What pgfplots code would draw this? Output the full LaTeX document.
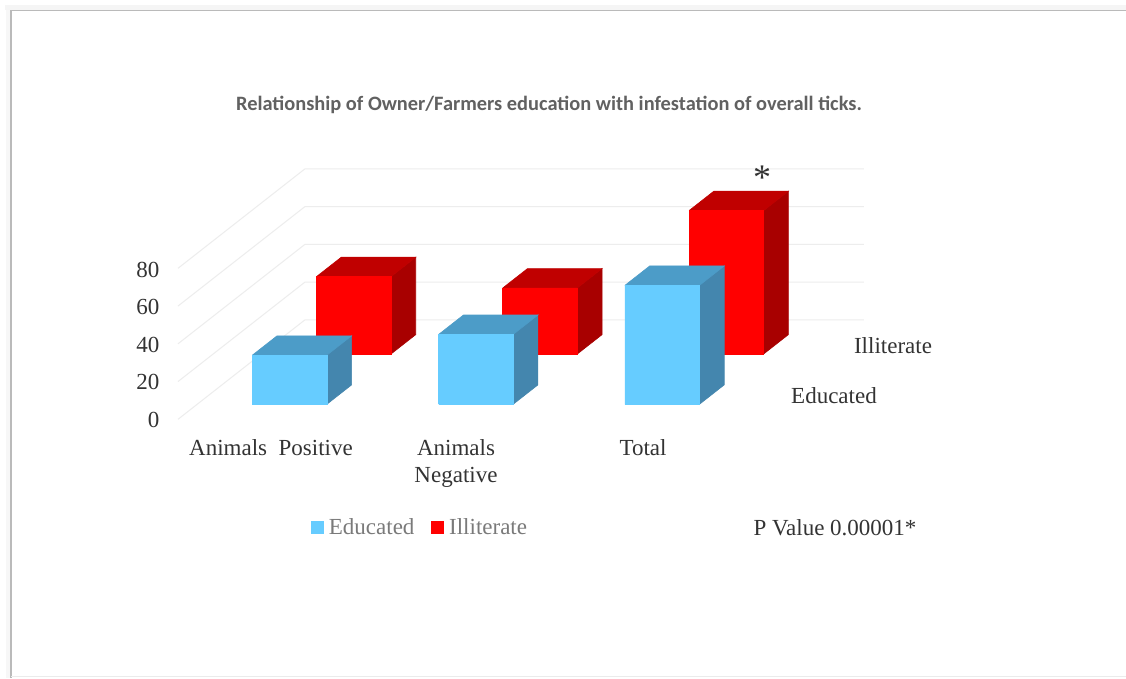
\documentclass[border=0pt]{standalone}
\usepackage{pgfplots}
\pgfplotsset{compat=1.18}
\usepackage{fontspec}
\setmainfont{Liberation Serif}
\newfontfamily\titlefont{Carlito}
\definecolor{eduFront}{HTML}{66CCFF}
\definecolor{eduTop}{HTML}{4C9CC8}
\definecolor{eduSide}{HTML}{4486AE}
\definecolor{illFront}{HTML}{FF0000}
\definecolor{illTop}{HTML}{C00000}
\definecolor{illSide}{HTML}{A80000}
\definecolor{wall}{HTML}{EDEDED}
\definecolor{ink}{HTML}{333333}
\definecolor{legendink}{HTML}{7A7A7A}

% One cuboid: x from #1 to #2, depth from #3 to #4, height #5, in the colours #6 (front), #7 (top), #8 (side)
\newcommand\cuboid[8]{%
  \addplot3[forget plot,fill=#8,draw=#8,line width=.6pt] coordinates
    {(#2,#3,0) (#2,#4,0) (#2,#4,#5) (#2,#3,#5) (#2,#3,0)};
  \addplot3[forget plot,fill=#7,draw=#7,line width=.6pt] coordinates
    {(#1,#3,#5) (#2,#3,#5) (#2,#4,#5) (#1,#4,#5) (#1,#3,#5)};
  \addplot3[forget plot,fill=#6,draw=#6,line width=.6pt] coordinates
    {(#1,#3,0) (#2,#3,0) (#2,#3,#5) (#1,#3,#5) (#1,#3,0)};
}
% One level of the wall grid
\newcommand\gridlevel[1]{%
  \addplot3[forget plot,wall,line width=1pt] coordinates {(0,0,#1) (0,1,#1) (3,1,#1)};
}

\begin{document}
\begin{tikzpicture}[x=1pt,y=-1pt]
\path[use as bounding box] (0,0) rectangle (1126,678);
% page frame with its soft shadow
\fill[white] (0,0) rectangle (1126,678);
\fill[black!4] (5,5) rectangle (1126,10);
\fill[black!3] (6,10) rectangle (11,678);
\draw[black!27,line width=1.6pt] (11,678) -- (11,10.5) -- (1126,10.5);
\draw[black!8,line width=1.2pt] (11,676.8) -- (1126,676.8);

\begin{axis}[
  at={(178pt,-419.3pt)},anchor=origin,
  x={(186.3pt,0pt)},y={(127pt,99.5pt)},z={(0pt,1.8875pt)},
  xmin=0,xmax=3,ymin=0,ymax=1,zmin=0,zmax=80,
  hide axis,clip=false,
  legend style={draw=none,fill=none,at={(0.353,-0.43)},anchor=center,
    legend columns=2,font=\fontsize{23}{27}\selectfont\color{legendink},
    /tikz/every even column/.append style={column sep=15pt}},
  legend cell align=left,
  legend image code/.code={\fill[#1] (0pt,-5.8pt) rectangle (11.8pt,5.8pt);\path[draw=none,fill=none] (0pt,0pt) rectangle (15.5pt,0.1pt);},
]
\addlegendimage{eduFront}\addlegendentry{Educated}
\addlegendimage{illFront}\addlegendentry{Illiterate}

\gridlevel{0}\gridlevel{20}\gridlevel{40}\gridlevel{60}\gridlevel{80}

% Illiterate row
\cuboid{0.296}{0.696}{0.656}{0.851}{41}{illFront}{illTop}{illSide}
\cuboid{1.296}{1.696}{0.656}{0.851}{35}{illFront}{illTop}{illSide}
\cuboid{2.296}{2.696}{0.656}{0.851}{76}{illFront}{illTop}{illSide}
% Educated row
\cuboid{0.296}{0.696}{0.151}{0.346}{26}{eduFront}{eduTop}{eduSide}
\cuboid{1.296}{1.696}{0.151}{0.346}{37}{eduFront}{eduTop}{eduSide}
\cuboid{2.296}{2.696}{0.151}{0.346}{63}{eduFront}{eduTop}{eduSide}
\end{axis}

\node[font=\titlefont\bfseries\fontsize{20.4}{24}\selectfont,text=black!62] at (549,104.5)
  {Relationship of Owner/Farmers education with infestation of overall ticks.};

\begin{scope}[every node/.style={font=\fontsize{23}{27}\selectfont,text=ink}]
\node[anchor=east] at (163,269.5) {80};
\node[anchor=east] at (163,306.5) {60};
\node[anchor=east] at (163,344.5) {40};
\node[anchor=east] at (163,381.5) {20};
\node[anchor=east] at (163,419.5) {0};
\node at (271,448) {Animals\ \ Positive};
\node at (456,448) {Animals};
\node at (456,477) {Negative};
\node at (643,448) {Total};
\node at (893,345.5) {Illiterate};
\node at (834,395.5) {Educated};
\node at (835,527.5) {P Value 0.00001*};
\node[font=\fontsize{36}{40}\selectfont] at (762,178) {*};
\end{scope}
\end{tikzpicture}
\end{document}
